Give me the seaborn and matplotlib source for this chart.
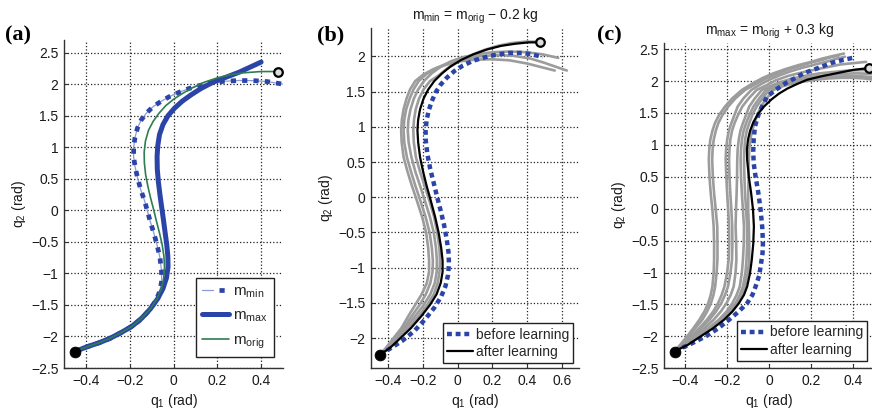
import matplotlib
matplotlib.use('Agg')
import matplotlib.pyplot as plt
import seaborn as sns
from matplotlib.legend_handler import HandlerTuple

sns.set_theme(style='white')
plt.rcParams['font.family'] = ['Liberation Sans', 'DejaVu Sans']
plt.rcParams['mathtext.fontset'] = 'custom'
plt.rcParams['mathtext.rm'] = 'Liberation Sans'
plt.rcParams['mathtext.it'] = 'Liberation Sans:italic'
plt.rcParams['mathtext.default'] = 'regular'
plt.rcParams['axes.unicode_minus'] = True

# ---------------- data: panel (a) ----------------
a_min_q1 = [-0.45, -0.40, -0.34, -0.29, -0.24, -0.19, -0.145, -0.11, -0.08, -0.062, -0.054, -0.055,
            -0.062, -0.075, -0.09, -0.106, -0.12, -0.133, -0.149, -0.163, -0.175, -0.182, -0.182,
            -0.176, -0.165, -0.148, -0.124, -0.094, -0.06, -0.02, 0.025, 0.07, 0.12, 0.17, 0.23,
            0.30, 0.37, 0.43, 0.50]
a_min_q2 = [-2.24, -2.17, -2.10, -2.03, -1.94, -1.84, -1.72, -1.58, -1.43, -1.28, -1.12, -0.95,
            -0.75, -0.55, -0.36, -0.18, 0.0, 0.16, 0.32, 0.5, 0.68, 0.85, 1.0,
            1.15, 1.3, 1.43, 1.54, 1.64, 1.72, 1.80, 1.87, 1.93, 1.98, 2.02, 2.045,
            2.058, 2.055, 2.04, 2.0]
a_max_q1 = [-0.45, -0.40, -0.34, -0.29, -0.24, -0.19, -0.145, -0.105, -0.072, -0.048, -0.032,
            -0.025, -0.026, -0.031, -0.038, -0.046, -0.054, -0.062, -0.069, -0.074, -0.075,
            -0.072, -0.064, -0.048, -0.025, 0.005, 0.04, 0.08, 0.125, 0.18, 0.24, 0.30, 0.35, 0.40]
a_max_q2 = [-2.24, -2.17, -2.10, -2.03, -1.94, -1.84, -1.71, -1.56, -1.40, -1.24, -1.07,
            -0.9, -0.72, -0.54, -0.36, -0.15, 0.05, 0.25, 0.45, 0.65, 0.85,
            1.02, 1.2, 1.36, 1.5, 1.62, 1.73, 1.83, 1.93, 2.03, 2.11, 2.19, 2.27, 2.35]
a_orig_q1 = [-0.45, -0.40, -0.34, -0.29, -0.24, -0.19, -0.145, -0.105, -0.075, -0.055, -0.045,
             -0.041, -0.044, -0.052, -0.064, -0.078, -0.092, -0.105, -0.117, -0.127, -0.133,
             -0.134, -0.128, -0.114, -0.093, -0.066, -0.035, 0.0, 0.04, 0.085, 0.14, 0.2,
             0.26, 0.32, 0.40, 0.476]
a_orig_q2 = [-2.24, -2.17, -2.10, -2.03, -1.94, -1.84, -1.71, -1.56, -1.40, -1.24, -1.08,
             -0.9, -0.72, -0.54, -0.36, -0.17, 0.03, 0.2, 0.38, 0.56, 0.75,
             0.92, 1.1, 1.27, 1.41, 1.54, 1.66, 1.76, 1.85, 1.94, 2.03, 2.1,
             2.15, 2.18, 2.2, 2.2]

start_q1, start_q2 = [-0.45], [-2.24]
goal_q1, goal_q2 = [0.476], [2.2]

# ---------------- data: panel (b) ----------------
b_before_q1 = [-0.45, -0.39, -0.32, -0.25, -0.19, -0.135, -0.095, -0.07, -0.056, -0.05, -0.053,
               -0.063, -0.078, -0.097, -0.118, -0.138, -0.158, -0.174, -0.184, -0.185, -0.179,
               -0.166, -0.15, -0.127, -0.098, -0.062, -0.02, 0.03, 0.09, 0.16, 0.23, 0.30,
               0.37, 0.43, 0.49]
b_before_q2 = [-2.24, -2.15, -2.04, -1.9, -1.74, -1.57, -1.41, -1.26, -1.11, -0.95, -0.78,
               -0.6, -0.4, -0.2, 0.0, 0.2, 0.4, 0.6, 0.8, 0.95, 1.1,
               1.24, 1.36, 1.49, 1.6, 1.7, 1.79, 1.87, 1.94, 1.99, 2.03, 2.05,
               2.05, 2.03, 1.99]
b_after_q1 = [-0.45, -0.39, -0.33, -0.27, -0.21, -0.16, -0.122, -0.098, -0.087, -0.087, -0.095,
              -0.11, -0.13, -0.155, -0.18, -0.2, -0.217, -0.228, -0.232, -0.228, -0.217,
              -0.197, -0.17, -0.135, -0.09, -0.04, 0.02, 0.09, 0.17, 0.25, 0.33, 0.41, 0.476]
b_after_q2 = [-2.24, -2.14, -2.0, -1.86, -1.69, -1.53, -1.38, -1.22, -1.06, -0.9, -0.72,
              -0.5, -0.28, -0.05, 0.17, 0.37, 0.57, 0.78, 0.95, 1.1, 1.25,
              1.4, 1.53, 1.65, 1.76, 1.86, 1.95, 2.03, 2.1, 2.15, 2.18, 2.2, 2.2]
b_gray_levels = [-2.24, -2.14, -2.0, -1.86, -1.69, -1.53, -1.38, -1.22, -1.06, -0.9, -0.72,
                 -0.5, -0.28, -0.05, 0.17, 0.37, 0.57, 0.78, 0.95, 1.1, 1.25, 1.4, 1.53, 1.65]
b_gray_q1 = [
    [-0.45, -0.395, -0.34, -0.283, -0.225, -0.176, -0.138, -0.115, -0.105, -0.102, -0.105, -0.118,
     -0.136, -0.163, -0.192, -0.218, -0.241, -0.253, -0.256, -0.252, -0.242, -0.223, -0.197, -0.16,
     -0.11, -0.06, 0.0, 0.07, 0.15, 0.23, 0.31, 0.39, 0.46],
    [-0.45, -0.402, -0.352, -0.3, -0.245, -0.196, -0.158, -0.132, -0.121, -0.12, -0.125, -0.138,
     -0.16, -0.189, -0.218, -0.245, -0.267, -0.283, -0.288, -0.284, -0.272, -0.253, -0.228, -0.195,
     -0.15, -0.1, -0.04, 0.03, 0.11, 0.2, 0.3, 0.4, 0.49, 0.58],
    [-0.45, -0.408, -0.36, -0.312, -0.265, -0.22, -0.184, -0.158, -0.145, -0.143, -0.149, -0.162,
     -0.185, -0.215, -0.245, -0.27, -0.293, -0.308, -0.312, -0.308, -0.297, -0.277, -0.255, -0.225,
     -0.18, -0.12, -0.05, 0.03, 0.12, 0.22, 0.32, 0.42, 0.5, 0.57, 0.63],
    [-0.45, -0.414, -0.37, -0.325, -0.285, -0.245, -0.208, -0.178, -0.165, -0.165, -0.17, -0.182,
     -0.205, -0.235, -0.265, -0.29, -0.312, -0.323, -0.326, -0.322, -0.312, -0.295, -0.275, -0.245,
     -0.2, -0.14, -0.07, 0.01, 0.1, 0.2, 0.3, 0.4, 0.48, 0.56],
]
b_gray_top_q2 = [
    [1.73, 1.83, 1.92, 2.01, 2.09, 2.15, 2.19, 2.21, 2.21],
    [1.76, 1.85, 1.93, 1.99, 2.03, 2.06, 2.07, 2.06, 2.03, 1.98],
    [1.75, 1.84, 1.91, 1.96, 2.0, 2.02, 2.01, 1.97, 1.91, 1.85, 1.80],
    [1.74, 1.82, 1.88, 1.93, 1.955, 1.96, 1.945, 1.9, 1.85, 1.80],
]

# ---------------- data: panel (c) ----------------
c_before_q1 = [-0.45, -0.38, -0.302, -0.245, -0.191, -0.145, -0.105, -0.08, -0.065, -0.048, -0.041,
               -0.032, -0.03, -0.033, -0.041, -0.052, -0.065, -0.074, -0.076, -0.074, -0.068,
               -0.049, -0.03, -0.01, 0.03, 0.078, 0.12, 0.165, 0.23, 0.292, 0.35, 0.394]
c_before_q2 = [-2.23, -2.13, -2.0, -1.88, -1.74, -1.61, -1.48, -1.35, -1.22, -1.05, -0.907,
               -0.7, -0.54, -0.3, -0.02, 0.25, 0.503, 0.713, 0.9, 1.078, 1.287,
               1.497, 1.63, 1.757, 1.86, 1.967, 2.04, 2.124, 2.2, 2.28, 2.33, 2.36]
c_after_q1 = [-0.45, -0.39, -0.326, -0.27, -0.215, -0.175, -0.144, -0.12, -0.105, -0.092, -0.083,
              -0.076, -0.073, -0.077, -0.086, -0.097, -0.105, -0.106, -0.101, -0.091, -0.075,
              -0.052, -0.025, 0.01, 0.045, 0.085, 0.13, 0.18, 0.25, 0.323, 0.4, 0.466]
c_after_q2 = [-2.23, -2.14, -2.0, -1.88, -1.74, -1.61, -1.48, -1.35, -1.22, -1.02, -0.8,
              -0.55, -0.28, -0.02, 0.243, 0.5, 0.765, 0.93, 1.08, 1.22, 1.36,
              1.49, 1.6, 1.71, 1.8, 1.88, 1.95, 2.02, 2.075, 2.124, 2.175, 2.2]
c_gray_levels = [-2.24, -2.12, -2.0, -1.87, -1.74, -1.61, -1.48, -1.35, -1.22, -1.0, -0.8, -0.55,
                 -0.28, -0.02, 0.24, 0.5, 0.77, 0.93, 1.08, 1.22, 1.34, 1.47, 1.6, 1.73, 1.86]
c_gray_q1 = [
    [-0.45, -0.42, -0.39, -0.36, -0.332, -0.308, -0.29, -0.278, -0.27, -0.264, -0.262, -0.262,
     -0.264, -0.27, -0.278, -0.284, -0.287, -0.285, -0.28, -0.27, -0.258, -0.238, -0.21, -0.175, -0.13,
     -0.08, -0.03, 0.02, 0.08, 0.14, 0.2, 0.25, 0.3, 0.355],
    [-0.45, -0.415, -0.382, -0.35, -0.318, -0.295, -0.277, -0.265, -0.257, -0.25, -0.246, -0.246,
     -0.247, -0.254, -0.262, -0.268, -0.271, -0.269, -0.264, -0.254, -0.242, -0.222, -0.195, -0.16, -0.115,
     -0.065, -0.015, 0.035, 0.09, 0.15, 0.2, 0.25, 0.29, 0.33],
    [-0.45, -0.41, -0.37, -0.332, -0.296, -0.266, -0.243, -0.226, -0.213, -0.2, -0.193, -0.19,
     -0.191, -0.195, -0.2, -0.204, -0.207, -0.205, -0.2, -0.192, -0.18, -0.165, -0.15, -0.122, -0.085,
     -0.045, 0.0, 0.05, 0.1, 0.16, 0.22, 0.28, 0.32, 0.36],
    [-0.45, -0.405, -0.362, -0.322, -0.284, -0.253, -0.228, -0.21, -0.196, -0.184, -0.177, -0.175,
     -0.176, -0.18, -0.185, -0.189, -0.191, -0.189, -0.185, -0.177, -0.165, -0.148, -0.128, -0.097, -0.06,
     -0.015, 0.03, 0.09, 0.15, 0.22, 0.28, 0.34, 0.4, 0.46],
    [-0.45, -0.4, -0.352, -0.306, -0.264, -0.23, -0.203, -0.183, -0.169, -0.16, -0.156, -0.157,
     -0.16, -0.158, -0.155, -0.153, -0.152, -0.15, -0.145, -0.137, -0.125, -0.11, -0.095, -0.068, -0.035,
     0.005, 0.05, 0.11, 0.17, 0.24, 0.3, 0.36, 0.42, 0.5],
    [-0.45, -0.392, -0.34, -0.288, -0.24, -0.203, -0.175, -0.155, -0.14, -0.13, -0.125, -0.121,
     -0.12, -0.125, -0.13, -0.134, -0.136, -0.134, -0.13, -0.122, -0.11, -0.094, -0.075, -0.047, -0.015,
     0.02, 0.06, 0.12, 0.18, 0.24, 0.3, 0.36, 0.42, 0.5],
    [-0.45, -0.39, -0.335, -0.28, -0.23, -0.192, -0.16, -0.14, -0.125, -0.113, -0.108, -0.105,
     -0.105, -0.11, -0.115, -0.118, -0.12, -0.118, -0.115, -0.107, -0.095, -0.08, -0.06, -0.032, 0.0,
     0.035, 0.08, 0.14, 0.2, 0.26, 0.32, 0.38, 0.43, 0.5],
    [-0.45, -0.388, -0.33, -0.274, -0.222, -0.183, -0.152, -0.13, -0.115, -0.102, -0.095, -0.095,
     -0.097, -0.1, -0.1, -0.098, -0.097, -0.095, -0.09, -0.082, -0.07, -0.056, -0.04, -0.012, 0.02,
     0.055, 0.1, 0.16, 0.22, 0.28, 0.34, 0.4, 0.45, 0.5],
]
c_gray_top_q2 = [
    [1.96, 2.05, 2.12, 2.19, 2.25, 2.3, 2.35, 2.39, 2.43],
    [1.95, 2.04, 2.11, 2.18, 2.24, 2.29, 2.33, 2.37, 2.4],
    [1.94, 2.02, 2.09, 2.15, 2.21, 2.26, 2.31, 2.35, 2.38],
    [1.93, 2.01, 2.08, 2.13, 2.18, 2.22, 2.26, 2.28, 2.3],
    [1.92, 1.98, 2.04, 2.08, 2.12, 2.14, 2.16, 2.17, 2.17],
    [1.91, 1.97, 2.02, 2.05, 2.08, 2.1, 2.115, 2.12, 2.11],
    [1.91, 1.96, 2.0, 2.03, 2.055, 2.07, 2.075, 2.075, 2.06],
    [1.91, 1.95, 1.99, 2.02, 2.04, 2.05, 2.05, 2.04, 2.02],
]

# ---------------- axes / text ----------------
a_xticks = [-0.4, -0.2, 0, 0.2, 0.4]
a_xlabels = ['\u22120.4', '\u22120.2', '0', '0.2', '0.4']
b_xticks = [-0.4, -0.2, 0, 0.2, 0.4, 0.6]
b_xlabels = ['\u22120.4', '\u22120.2', '0', '0.2', '0.4', '0.6']
y25_ticks = [-2.5, -2, -1.5, -1, -0.5, 0, 0.5, 1, 1.5, 2, 2.5]
y25_labels = ['\u22122.5', '\u22122', '\u22121.5', '\u22121', '\u22120.5', '0', '0.5', '1', '1.5', '2', '2.5']
y2_ticks = [-2, -1.5, -1, -0.5, 0, 0.5, 1, 1.5, 2]
y2_labels = ['\u22122', '\u22121.5', '\u22121', '\u22120.5', '0', '0.5', '1', '1.5', '2']

BLUE = '#2b44a8'
GREEN = '#2f7d52'
GRAY = '#9c9c9c'
TXT = '#1a1a1a'

fig = plt.figure(figsize=(8.72, 4.11), dpi=100)
W, H = 872, 411


def make_ax(l, r, t, b):
    return fig.add_axes([l / W, 1 - b / H, (r - l) / W, (b - t) / H])


axA = make_ax(64, 283, 40, 368)
axB = make_ax(371, 579, 28.3, 368.3)
axC = make_ax(664, 874.5, 42.7, 368.3)


def style(ax, xlim, ylim, xt, xl, yt, yl):
    ax.set_xlim(*xlim)
    ax.set_ylim(*ylim)
    ax.set_xticks(xt)
    ax.set_xticklabels(xl)
    ax.set_yticks(yt)
    ax.set_yticklabels(yl)
    ax.grid(True, linestyle=':', color='#222222', linewidth=0.9)
    ax.set_axisbelow(True)
    for s in ['top', 'right']:
        ax.spines[s].set_visible(False)
    for s in ['left', 'bottom']:
        ax.spines[s].set_color('#333333')
        ax.spines[s].set_linewidth(1.0)
    ax.tick_params(direction='in', length=3, width=0.8, colors='#333333',
                   labelcolor=TXT, labelsize=10, pad=4,
                   left=True, bottom=True)
    ax.set_xlabel('q$_1$ (rad)', fontsize=10, color=TXT, labelpad=3)
    ax.set_ylabel('q$_2$ (rad)', fontsize=10, color=TXT, labelpad=2)
    ax.set_facecolor('white')


def line(ax, x, y, **kw):
    sns.lineplot(x=x, y=y, sort=False, estimator=None, ax=ax,
                 solid_joinstyle='round', dash_joinstyle='round', **kw)
    return ax.lines[-1]


def endpoints(ax):
    sns.scatterplot(x=start_q1, y=start_q2, s=60, color='black', edgecolor='black',
                    ax=ax, zorder=6, clip_on=False)
    sns.scatterplot(x=goal_q1, y=goal_q2, s=38, color='#dddddd', edgecolor='black',
                    linewidth=1.6, ax=ax, zorder=6, clip_on=False)


# ---- panel (a)
style(axA, (-0.5, 0.5), (-2.5, 2.7), a_xticks, a_xlabels, y25_ticks, y25_labels)
l_min_thin = line(axA, a_min_q1, a_min_q2, color='#8d9ad6', linewidth=0.9, zorder=3)
l_min = line(axA, a_min_q1, a_min_q2, color=BLUE, linewidth=3.4,
             linestyle=(0, (1.1, 1.3)), zorder=3)
l_max = line(axA, a_max_q1, a_max_q2, color=BLUE, linewidth=3.6, zorder=3)
l_orig = line(axA, a_orig_q1, a_orig_q2, color=GREEN, linewidth=1.2, zorder=4)
endpoints(axA)
legA = axA.legend(handles=[(l_min_thin, l_min), l_max, l_orig],
                  labels=['m$_{min}$', 'm$_{max}$', 'm$_{orig}$'],
                  handler_map={tuple: HandlerTuple(ndivide=None)},
                  loc='lower right', bbox_to_anchor=(0.959, 0.034), borderaxespad=0,
                  fontsize=11, handlelength=1.75, handletextpad=0.25, labelspacing=0.6,
                  fancybox=False, framealpha=1, edgecolor='#222222', borderpad=0.4)
legA.get_frame().set_linewidth(1.0)

# ---- panel (b)
style(axB, (-0.5, 0.7), (-2.43, 2.4), b_xticks, b_xlabels, y2_ticks, y2_labels)
for gq1, top in zip(b_gray_q1, b_gray_top_q2):
    line(axB, gq1, b_gray_levels + top, color=GRAY, linewidth=1.9, zorder=2)
lb_before = line(axB, b_before_q1, b_before_q2, color=BLUE, linewidth=3.2,
                 linestyle=(0, (1.1, 0.85)), zorder=3)
lb_after = line(axB, b_after_q1, b_after_q2, color='black', linewidth=1.6, zorder=4)
endpoints(axB)
legB = axB.legend(handles=[lb_before, lb_after], labels=['before learning', 'after learning'],
                  loc='lower right', bbox_to_anchor=(0.971, 0.015), borderaxespad=0,
                  fontsize=10, handlelength=1.9, handletextpad=0.15, labelspacing=0.25,
                  fancybox=False, framealpha=1, edgecolor='#222222', borderpad=0.3)
legB.get_frame().set_linewidth(1.0)
axB.set_title('m$_{min}$ = m$_{orig}$ \u2212 0.2 kg', fontsize=10, color=TXT, pad=6)

# ---- panel (c)
style(axC, (-0.5, 0.5), (-2.5, 2.6), a_xticks, a_xlabels, y25_ticks, y25_labels)
for gq1, top in zip(c_gray_q1, c_gray_top_q2):
    line(axC, gq1, c_gray_levels + top, color=GRAY, linewidth=1.9, zorder=2)
lc_before = line(axC, c_before_q1, c_before_q2, color=BLUE, linewidth=3.2,
                 linestyle=(0, (1.1, 0.85)), zorder=3)
lc_after = line(axC, c_after_q1, c_after_q2, color='black', linewidth=1.6, zorder=4)
endpoints(axC)
legC = axC.legend(handles=[lc_before, lc_after], labels=['before learning', 'after learning'],
                  loc='lower right', bbox_to_anchor=(0.964, 0.022), borderaxespad=0,
                  fontsize=10, handlelength=1.9, handletextpad=0.15, labelspacing=0.25,
                  fancybox=False, framealpha=1, edgecolor='#222222', borderpad=0.3)
legC.get_frame().set_linewidth(1.0)
axC.set_title('m$_{max}$ = m$_{orig}$ + 0.3 kg', fontsize=10, color=TXT, pad=6)

# panel letters
for txt, x in [('(a)', 5), ('(b)', 317), ('(c)', 597)]:
    fig.text(x / W, 1 - 40 / H, txt, fontsize=16, fontweight='bold',
             family=['Liberation Serif', 'DejaVu Serif'], color='black', va='baseline')

fig.savefig('out.png', dpi=100, facecolor='white')
